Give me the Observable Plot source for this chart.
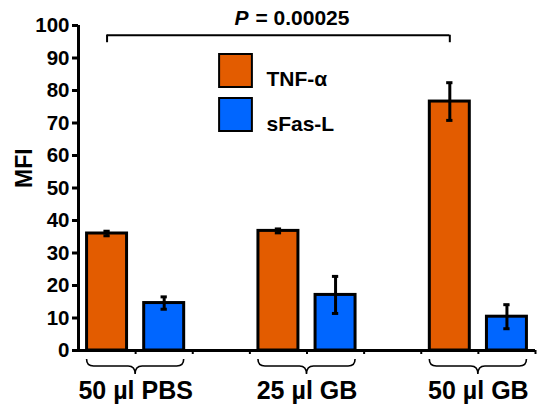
<!DOCTYPE html>
<html><head><meta charset="utf-8">
<script src="https://cdn.jsdelivr.net/npm/d3@7"></script>
<script src="https://cdn.jsdelivr.net/npm/@observablehq/plot@0.6"></script>
<style>
body{margin:0;background:#fff}
svg{font-family:"Liberation Sans",Arial,sans-serif;font-weight:bold}
</style>
</head><body><div id="chart"></div>
<script>
const groups = ["50 µl PBS", "25 µl GB", "50 µl GB"];
const seriesNames = ["TNF-α", "sFas-L"];
const tnfValues = [36.0, 36.8, 76.6];
const tnfErrors = [0.7, 0.6, 5.8];
const sfasValues = [14.6, 17.1, 10.4];
const sfasErrors = [1.9, 5.7, 3.7];
const yTicks = [0, 10, 20, 30, 40, 50, 60, 70, 80, 90, 100];
const pValue = "0.00025";
const bracketLevel = 97;
const colors = ["#E35C00", "#0066FF"];

const rows = groups.flatMap((g, gi) => [
  {group: g, gi, series: seriesNames[0], si: 0, value: tnfValues[gi], err: tnfErrors[gi]},
  {group: g, gi, series: seriesNames[1], si: 1, value: sfasValues[gi], err: sfasErrors[gi]}
]);
// each group takes 3 slots: two bars and a gap
rows.forEach(d => { d.slot = d.gi * 3 + d.si; d.cx = d.slot + 0.5; });
const caps = rows.flatMap(d => [
  {cx: d.cx, y: d.value - d.err},
  {cx: d.cx, y: d.value + d.err}
]);
const nSlots = groups.length * 3 - 1;
const bracketEnds = rows.filter(d => d.si === 0 && (d.gi === 0 || d.gi === groups.length - 1)).map(d => d.cx);

function braces(index, scales) {
  const g = d3.create("svg:g").attr("fill", "none").attr("stroke", "black").attr("stroke-width", 1.6);
  const y0 = scales.y(0);
  groups.forEach((_, gi) => {
    const x1 = scales.x(gi * 3 + 0.15), x2 = scales.x(gi * 3 + 1.85), xm = (x1 + x2) / 2;
    const top = y0 + 9, mid = y0 + 16, tip = y0 + 24;
    g.append("path").attr("d",
      `M${x1},${top}Q${x1},${mid} ${x1 + 7},${mid}L${xm - 7},${mid}Q${xm},${mid} ${xm},${tip}` +
      `Q${xm},${mid} ${xm + 7},${mid}L${x2 - 7},${mid}Q${x2},${mid} ${x2},${top}`);
  });
  return g.node();
}

const legendMarks = seriesNames.flatMap((s, i) => [
  Plot.dot([s], {frameAnchor: "top-left", dx: 157, dy: 45 + i * 44, symbol: "square", r: 18.5,
    fill: d => d, stroke: "black", strokeWidth: 2}),
  Plot.text([s], {frameAnchor: "top-left", dx: 188, dy: 46 + i * 45, textAnchor: "start",
    fontSize: 21, fill: "black"})
]);

const chart = Plot.plot({
  width: 541,
  height: 406,
  marginLeft: 78,
  marginRight: 6,
  marginTop: 25,
  marginBottom: 56,
  x: {domain: [0, nSlots], axis: null},
  y: {domain: [0, 100], axis: null},
  color: {domain: seriesNames, range: colors},
  marks: [
    Plot.axisY({ticks: yTicks, tickSize: 6, strokeWidth: 3, tickPadding: 3, fontSize: 20.5, label: null}),
    Plot.axisX({ticks: d3.range(1, nSlots + 1), tickSize: 4, strokeWidth: 2, tickFormat: () => "", label: null}),
    Plot.rectY(rows, {x1: d => d.slot + 0.15, x2: d => d.slot + 0.85, y: "value", fill: "series",
      stroke: "black", strokeWidth: 3}),
    Plot.ruleX(rows, {x: "cx", y1: d => d.value - d.err, y2: d => d.value + d.err, strokeWidth: 3}),
    Plot.ruleY(caps, {x1: d => d.cx - 0.055, x2: d => d.cx + 0.055, y: "y", strokeWidth: 3}),
    Plot.ruleX([0], {strokeWidth: 3}),
    Plot.ruleY([0], {strokeWidth: 3}),
    braces,
    Plot.text(groups, {x: (d, i) => i * 3 + 1, frameAnchor: "bottom", lineAnchor: "top", dy: 31,
      fontSize: 25, text: d => d}),
    Plot.text(["MFI"], {frameAnchor: "left", rotate: -90, dx: -54, fontSize: 23}),
    Plot.ruleY([bracketLevel], {x1: bracketEnds[0], x2: bracketEnds[1], strokeWidth: 2}),
    Plot.ruleX(bracketEnds, {y1: bracketLevel - 2.3, y2: bracketLevel, strokeWidth: 2}),
    Plot.text(["P"], {x: d3.mean(bracketEnds), frameAnchor: "top", lineAnchor: "bottom", dy: -1, dx: -30,
      textAnchor: "end", fontStyle: "italic", fontSize: 21}),
    Plot.text(["= " + pValue], {x: d3.mean(bracketEnds), frameAnchor: "top", lineAnchor: "bottom", dy: -1, dx: -23,
      textAnchor: "start", fontSize: 21}),
    ...legendMarks
  ]
});
document.getElementById("chart").append(chart);
</script>
</body></html>
